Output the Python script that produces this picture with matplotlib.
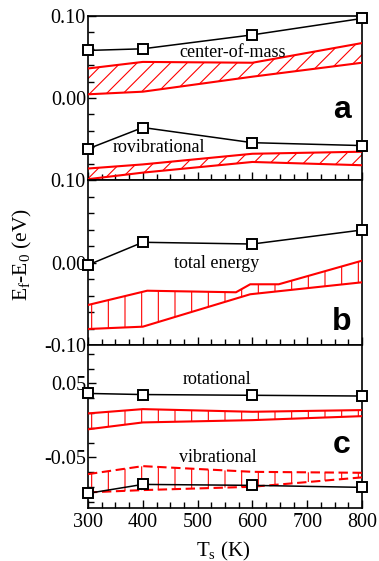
import matplotlib
matplotlib.use('Agg')
import matplotlib.pyplot as plt
import numpy as np
from matplotlib.ticker import FixedLocator, MultipleLocator

plt.rcParams['font.family'] = ['Liberation Serif', 'DejaVu Serif']
plt.rcParams['mathtext.fontset'] = 'custom'
plt.rcParams['mathtext.rm'] = 'Liberation Serif'
plt.rcParams['mathtext.it'] = 'Liberation Serif:italic'
plt.rcParams['hatch.linewidth'] = 0.8
plt.rcParams['axes.unicode_minus'] = False

# ---------------- data ----------------
T = [300, 400, 600, 800]
# panel a
com_sim = [0.058, 0.060, 0.077, 0.097]
com_upper = [0.036, 0.044, 0.043, 0.067]
com_lower = [0.0045, 0.0077, 0.026, 0.043]
rovib_sim = [-0.062, -0.036, -0.0545, -0.058]
rovib_upper = [-0.086, -0.081, -0.068, -0.0655]
rovib_lower = [-0.099, -0.091, -0.078, -0.082]
# panel b
tot_sim = [-0.003, 0.0245, 0.0224, 0.0394]
tot_upper_T = [300, 408, 570, 596, 648, 800]
tot_upper = [-0.0515, -0.0342, -0.0361, -0.0264, -0.0264, 0.0022]
tot_lower_T = [300, 400, 596, 800]
tot_lower = [-0.0806, -0.0778, -0.0385, -0.0240]
# panel c
rot_sim = [0.0365, 0.035, 0.034, 0.033]
rot_upper = [0.0095, 0.0153, 0.0117, 0.014]
rot_lower = [-0.012, -0.0027, 0.0004, 0.0058]
vib_sim = [-0.0986, -0.0865, -0.0878, -0.0905]
vib_upper = [-0.0726, -0.0618, -0.0695, -0.0708]
vib_lower = [-0.0973, -0.0942, -0.0897, -0.077]

x_ticks = [300, 400, 500, 600, 700, 800]
x_ticklabels = ['300', '400', '500', '600', '700', '800']

# ---------------- figure ----------------
W, H = 379, 561
fig = plt.figure(figsize=(W / 100, H / 100), dpi=100)

def px_axes(top, bottom):
    return fig.add_axes([88 / W, 1 - bottom / H, 274 / W, (bottom - top) / H])

axa = px_axes(16, 180)
axb = px_axes(180, 345)
axc = px_axes(345, 507.7)

RED = '#ff0000'

def sim(ax, x, y):
    ax.plot(x, y, color='black', lw=1.1, marker='s', ms=7.5, mfc='white',
            mec='black', mew=1.4, zorder=4, clip_on=False)

def band(ax, xu, yu, xl, yl, hatch, ls='-'):
    xp = list(xu) + list(xl)[::-1]
    yp = list(yu) + list(yl)[::-1]
    ax.fill(xp, yp, facecolor='none', edgecolor=RED, linewidth=0, hatch=hatch, zorder=2)
    ax.plot(xu, yu, color=RED, lw=1.5, ls=ls, zorder=3)
    ax.plot(xl, yl, color=RED, lw=1.5, ls=ls, zorder=3)

dash = (0, (4.5, 2.2))

# panel a
sim(axa, T, com_sim)
band(axa, T, com_upper, T, com_lower, '//')
sim(axa, T, rovib_sim)
band(axa, T, rovib_upper, T, rovib_lower, '//')
# panel b
sim(axb, T, tot_sim)
band(axb, tot_upper_T, tot_upper, tot_lower_T, tot_lower, '|')
# panel c
sim(axc, T, rot_sim)
band(axc, T, rot_upper, T, rot_lower, '|')
sim(axc, T, vib_sim)
band(axc, T, vib_upper, T, vib_lower, '|', ls=dash)

for ax in (axa, axb, axc):
    ax.set_xlim(300, 800)
    ax.xaxis.set_major_locator(FixedLocator(x_ticks))
    ax.xaxis.set_minor_locator(MultipleLocator(25))
    ax.tick_params(which='both', direction='in', top=False, right=False,
                   labelsize=14.5, width=1.0)
    ax.tick_params(which='major', length=6)
    ax.tick_params(which='minor', length=4)
    ax.tick_params(axis='y', pad=1.5)
    ax.tick_params(axis='x', pad=4)
    for s in ax.spines.values():
        s.set_linewidth(1.2)
    if ax is not axc:
        ax.set_xticklabels([])
axc.set_xticklabels(x_ticklabels)

axa.set_ylim(-0.10, 0.10)
axa.yaxis.set_major_locator(FixedLocator([-0.10, 0.0, 0.10]))
axa.yaxis.set_minor_locator(MultipleLocator(0.02))
axa.set_yticklabels(['', '0.00', '0.10'])

axb.set_ylim(-0.10, 0.10)
axb.yaxis.set_major_locator(FixedLocator([-0.10, 0.0, 0.10]))
axb.yaxis.set_minor_locator(MultipleLocator(0.02))
axb.set_yticklabels(['-0.10', '0.00', '0.10'])

axc.set_ylim(-0.118, 0.102)
axc.yaxis.set_major_locator(FixedLocator([-0.05, 0.05]))
axc.yaxis.set_minor_locator(FixedLocator([0.09, 0.07, 0.03, 0.01, -0.01, -0.03, -0.07, -0.09, -0.11]))
axc.set_yticklabels(['-0.05', '0.05'])

def ftext(x, y, s, **kw):
    fig.text(x / W, 1 - y / H, s, **kw)

ftext(233, 57.3, 'center-of-mass', ha='center', va='baseline', fontsize=13)
ftext(159, 151.7, 'rovibrational', ha='center', va='baseline', fontsize=13)
ftext(216.7, 268.3, 'total energy', ha='center', va='baseline', fontsize=13)
ftext(217, 384, 'rotational', ha='center', va='baseline', fontsize=13)
ftext(218.3, 462.3, 'vibrational', ha='center', va='baseline', fontsize=13)

for lab, yb in (('a', 118.3), ('b', 330), ('c', 453.3)):
    ftext(341.5, yb, lab, ha='center', va='baseline', fontsize=23,
          fontweight='bold', family='Liberation Sans')

ftext(22, 254, r'E$_\mathrm{f}$-E$_\mathrm{0}$ (eV)', rotation=90, ha='center',
      va='center', fontsize=15.5)
ftext(223, 556, r'T$_\mathrm{s}$ (K)', ha='center', va='baseline', fontsize=15)

fig.savefig('out.png', dpi=100)
